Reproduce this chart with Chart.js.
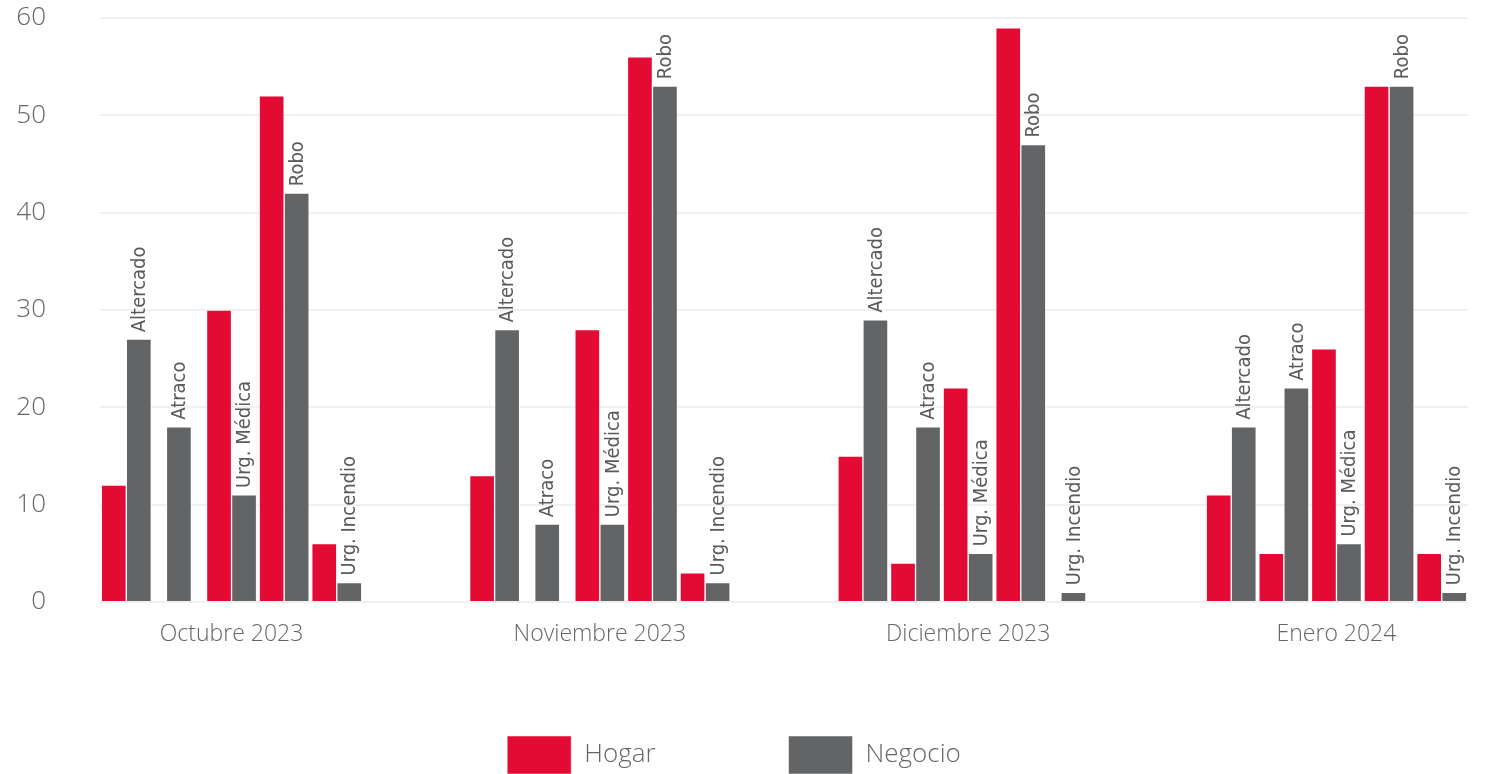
<!DOCTYPE html>
<html>
<head>
<meta charset="utf-8">
<script src="https://cdn.jsdelivr.net/npm/chart.js@4.4.0/dist/chart.umd.min.js"></script>
<style>
  body { margin: 0; overflow: hidden; background: #fff; }
  #caja { width: 1491px; height: 784px; }
</style>
</head>
<body>
<div id="caja"><canvas id="grafico"></canvas></div>
<script>
const meses = ['Octubre 2023', 'Noviembre 2023', 'Diciembre 2023', 'Enero 2024']
const tipos = ['Altercado', 'Atraco', 'Urg. Médica', 'Robo', 'Urg. Incendio']

// valores por mes, en el orden de "tipos"
const hogar = [
    [12, 0, 30, 52, 6],
    [13, 0, 28, 56, 3],
    [15, 4, 22, 59, 0],
    [11, 5, 26, 53, 5]
]
const negocio = [
    [27, 18, 11, 42, 2],
    [28, 8, 8, 53, 2],
    [29, 18, 5, 47, 1],
    [18, 22, 6, 53, 1]
]
const ticksY = [0, 10, 20, 30, 40, 50, 60]

const rojo = '#e30a34'
const gris = '#636466'
const fuente = "'Open Sans', 'Noto Sans', sans-serif"

// armamos una ranura por tipo y dos huecos entre meses
let etiquetas = []
let serieHogar = []
let serieNegocio = []
let mesSlot = []
let tipoSlot = []

meses.forEach((mes, m) => {
    if (m > 0) {
        for (let k = 0; k < 2; k++) {
            etiquetas.push('')
            serieHogar.push(null)
            serieNegocio.push(null)
            mesSlot.push(m)
            tipoSlot.push(-1)
        }
    }
    tipos.forEach((tipo, t) => {
        etiquetas.push(mes + ' ' + tipo)
        // un cero no ocupa sitio en el grupo
        serieHogar.push(hogar[m][t] === 0 ? null : hogar[m][t])
        serieNegocio.push(negocio[m][t] === 0 ? null : negocio[m][t])
        mesSlot.push(m)
        tipoSlot.push(t)
    })
})

// texto girado encima de cada barra de Negocio
const etiquetasTipo = {
    id: 'etiquetasTipo',
    afterDatasetsDraw(chart) {
        const ctx = chart.ctx
        const meta = chart.getDatasetMeta(1)
        ctx.save()
        ctx.fillStyle = '#5a5a5a'
        ctx.font = "20px 'Liberation Sans Narrow', 'DejaVu Sans Condensed', sans-serif"
        ctx.textAlign = 'left'
        ctx.textBaseline = 'middle'
        meta.data.forEach((barra, i) => {
            if (tipoSlot[i] < 0 || serieNegocio[i] === null) return
            ctx.save()
            ctx.translate(barra.x, barra.y - 7)
            ctx.rotate(-Math.PI / 2)
            ctx.fillText(tipos[tipoSlot[i]], 0, 1)
            ctx.restore()
        })
        ctx.restore()
    }
}

const data = {
    labels: etiquetas,
    datasets: [{
        label: 'Hogar',
        data: serieHogar,
        backgroundColor: rojo,
        borderColor: 'rgba(255,255,255,0.5)',
        borderWidth: 1
    }, {
        label: 'Negocio',
        data: serieNegocio,
        backgroundColor: gris,
        borderColor: 'rgba(255,255,255,0.5)',
        borderWidth: 1
    }]
}

const config = {
    type: 'bar',
    data: data,
    plugins: [etiquetasTipo],
    options: {
        responsive: true,
        maintainAspectRatio: false,
        animation: false,
        skipNull: true,
        barThickness: 25,
        layout: {
            padding: { top: 18, right: 23, left: 0, bottom: 0 }
        },
        plugins: {
            tooltip: { enabled: false },
            legend: {
                position: 'bottom',
                labels: {
                    boxWidth: 64,
                    boxHeight: 38,
                    padding: 133,
                    color: '#666',
                    font: { family: fuente, size: 26, weight: '300' }
                }
            }
        },
        scales: {
            x: {
                grid: { display: false },
                border: { display: false },
                // eje muy bajo para que la leyenda quede donde va;
                // con mirror las etiquetas no se recortan
                afterFit: (s) => { s.height = 1 },
                ticks: {
                    autoSkip: false,
                    maxRotation: 0,
                    mirror: true,
                    padding: -46,
                    color: '#666',
                    font: { family: fuente, size: 23, weight: '300' },
                    callback: (valor, i) => tipoSlot[i] === 2 ? meses[mesSlot[i]] : ''
                }
            },
            y: {
                min: 0,
                max: 60,
                afterFit: (s) => {
                    s.width = 100
                    s.paddingTop = 0
                    s.paddingBottom = 0
                },
                afterBuildTicks: (s) => { s.ticks = ticksY.map(v => ({ value: v })) },
                grid: { color: '#f0f0f0', lineWidth: 2, drawTicks: false },
                border: { display: false },
                ticks: {
                    padding: 54,
                    color: '#666',
                    font: { family: fuente, size: 26, weight: '300' }
                }
            }
        }
    }
}

const grafico = new Chart(document.getElementById('grafico'), config)
</script>
</body>
</html>
